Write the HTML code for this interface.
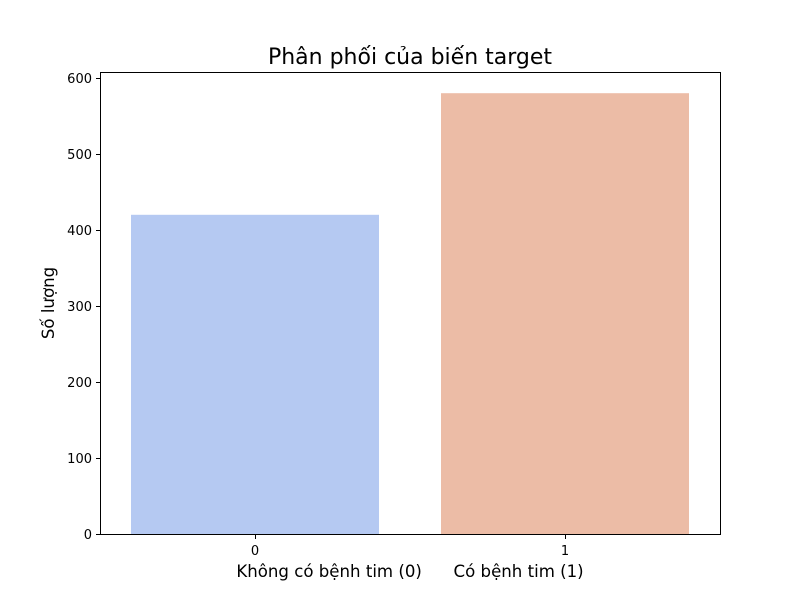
<!DOCTYPE html>
<html><head><meta charset="utf-8"><style>
body{margin:0;background:#fff;}
svg text{font-family:"DejaVu Sans","Liberation Sans",sans-serif;}
</style></head><body>
<svg id="chart" width="800" height="600" xmlns="http://www.w3.org/2000/svg">
<rect width="800" height="600" fill="#fff"/>
<text x="410" y="64" font-size="22" text-anchor="middle">Phân phối của biến target</text>
<g id="bars"></g>
<g id="yaxis"></g>
<g id="xaxis"></g>
<rect x="100.5" y="72.5" width="620" height="462" fill="none" stroke="#000" stroke-width="1"/>
<text x="410" y="577" font-size="16.6" text-anchor="middle" xml:space="preserve">Không có bệnh tim (0)      Có bệnh tim (1)</text>
<text transform="translate(54,303) rotate(-90)" font-size="16.6" text-anchor="middle">Số lượng</text>
</svg>
<script>
const categories = ["0", "1"];
const counts = [420, 580];
const yTicks = [0, 100, 200, 300, 400, 500, 600];
const colors = ["#b5c9f2", "#ecbca6"];

const L = 100, R = 720, B = 534, scaleY = 0.76;
const y = v => B - v * scaleY;
const band = (R - L) / categories.length;
const x = i => L + band * i + band / 2;
const bw = band * 0.8;
const ns = "http://www.w3.org/2000/svg";
function mk(tag, attrs, parent) {
  const e = document.createElementNS(ns, tag);
  for (const k in attrs) e.setAttribute(k, attrs[k]);
  parent.appendChild(e);
  return e;
}
const gb = document.getElementById('bars');
categories.forEach((c, i) => {
  const r = mk('rect', {x: x(i) - bw / 2, y: y(counts[i]), width: bw, height: B - y(counts[i]), fill: colors[i]}, gb);
  
  
});
const gy = document.getElementById('yaxis');
yTicks.forEach(t => {
  const ln = mk('line', {x1: 100.5, x2: 96, y1: y(t) + 0.5, y2: y(t) + 0.5, stroke: '#000'}, gy);
  
  
  const tx = mk('text', {x: 92, y: y(t) + 5, 'font-size': 13, 'text-anchor': 'end'}, gy);
  tx.textContent = t;
  
  
});
const gx = document.getElementById('xaxis');
categories.forEach((c, i) => {
  const ln = mk('line', {x1: x(i) + 0.5, x2: x(i) + 0.5, y1: 534.5, y2: 539, stroke: '#000'}, gx);
  
  
  const tx = mk('text', {x: x(i), y: 555, 'font-size': 13, 'text-anchor': 'middle'}, gx);
  tx.textContent = c;
  
  
});
</script>
</body></html>
